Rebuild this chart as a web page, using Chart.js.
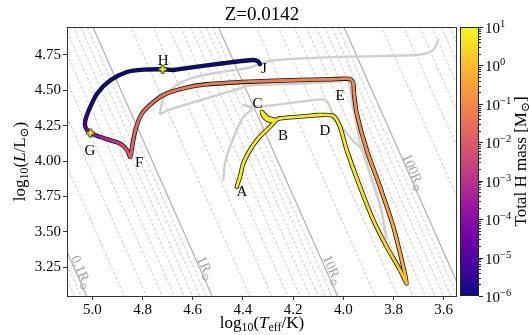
<!DOCTYPE html>
<html><head><meta charset="utf-8">
<script src="https://cdn.jsdelivr.net/npm/chart.js@4"></script>
<style>html,body{margin:0;padding:0;background:#fff;overflow:hidden}</style>
</head><body>
<canvas id="c" width="529" height="335"></canvas>
<script>
// ---------------- data ----------------
const chartTitle = 'Z=0.0142';
const xTicks = [5.0, 4.8, 4.6, 4.4, 4.2, 4.0, 3.8, 3.6];
const yTicks = [3.25, 3.5, 3.75, 4.0, 4.25, 4.5, 4.75];
const cbExponents = [-6, -5, -4, -3, -2, -1, 0, 1];

// binary-donor track: log Teff, log L, log total H mass
const trackLogT = [4.4247,4.4116,4.3984,4.3717,4.3386,4.3052,4.2789,4.2721,4.3000,4.3239,4.3159,4.2920,4.2681,4.2522,4.1725,4.0928,4.0398,4.0131,3.9865,3.9335,3.8805,3.8271,3.7741,3.7474,3.7610,3.8008,3.8538,3.9068,3.9466,3.9574,3.9602,3.9733,4.0530,4.1725,4.3717,4.5442,4.6375,4.7171,4.7701,4.8060,4.8287,4.8418,4.8486,4.8618,4.8884,4.9283,4.9681,5.0080,5.0279,5.0279,5.0143,4.9813,4.9283,4.8618,4.7952,4.7195,4.6773,4.6108,4.4781,4.3586,4.3386,4.3319];
const trackLogL = [3.8185,3.8890,3.9840,4.0777,4.1603,4.2189,4.2662,4.2895,4.3037,4.3460,4.3107,4.2825,4.2895,4.3016,4.3129,4.3249,4.3178,4.2422,4.0777,3.8185,3.5833,3.3948,3.2302,3.1363,3.2535,3.5360,3.8185,4.0777,4.3369,4.4781,4.5487,4.5791,4.5770,4.5720,4.5600,4.5417,4.5134,4.4661,4.3955,4.3249,4.2168,4.0989,4.0282,4.0756,4.1222,4.1462,4.1695,4.1977,4.2401,4.2874,4.3580,4.4753,4.5699,4.6285,4.6448,4.6476,4.6427,4.6589,4.6900,4.7133,4.7013,4.6829];
const trackLogMH = [0.85,0.85,0.84,0.84,0.83,0.83,0.82,0.82,0.82,0.81,0.81,0.81,0.80,0.80,0.79,0.78,0.78,0.77,0.75,0.70,0.62,0.50,0.35,0.15,-0.10,-0.40,-0.60,-0.75,-0.88,-0.95,-1.00,-1.05,-1.10,-1.15,-1.20,-1.30,-1.35,-1.45,-1.55,-1.60,-1.70,-1.75,-1.85,-2.10,-2.50,-3.00,-3.50,-4.00,-4.70,-5.40,-5.80,-6.00,-6.00,-6.00,-6.00,-6.00,-6.00,-6.00,-6.00,-6.00,-6.00,-6.00];

// comparison single-star tracks (grey)
const grey1LogT = [4.4781,4.4713,4.4514,4.4247,4.3984,4.3649,4.3984,4.3660,4.2721,4.1394,4.0797,4.0610,4.0450,4.0052,3.9574,3.9215,3.8924,3.8538,3.8271];
const grey1LogL = [3.8658,3.9838,4.1010,4.2189,4.3129,4.3651,4.3970,4.3830,4.3955,4.4258,4.4343,4.4096,4.3460,4.2401,4.1342,4.0777,3.9011,3.6893,3.4541];
const grey2LogT = [3.8271,3.8538,3.8924,3.9335,3.9602,3.9665,3.9761,3.9893,4.0131,4.1725,4.3717,4.4116,4.5442,4.6773,4.7064,4.7303,4.7243,4.7171,4.6637,4.5841,4.4781,4.3717,4.2920,4.1725,3.9733,3.7076,3.6625,3.6386,3.6215];
const grey2LogL = [3.4541,3.6893,3.9011,4.1363,4.3722,4.4428,4.5438,4.5791,4.5650,4.5473,4.5332,4.5134,4.4428,4.3722,4.3531,4.3319,4.3955,4.4428,4.5367,4.5953,4.6306,4.6603,4.7062,4.7239,4.7366,4.7486,4.7627,4.7910,4.8545];

// special points (yellow plus markers)
const markerLogT = [5.0080, 4.7195];
const markerLogL = [4.1977, 4.6476];

// stage labels
const stageLabels = ['A','B','C','D','E','F','G','H','J'];
const stageLogT = [4.4036,4.2402,4.3418,4.0729,4.0131,4.8139,5.0092,4.7183,4.3160];
const stageLogL = [3.7881,4.1836,4.4096,4.2189,4.4661,3.9929,4.0777,4.7097,4.6568];

// iso-radius guide lines (R in solar radii); labelled ones
const isoRadii = [0.06,0.07,0.08,0.09,0.1,0.2,0.3,0.4,0.5,0.6,0.7,0.8,0.9,1,2,3,4,5,6,7,8,9,10,20,30,40,50,60,70,80,90,100,200,300,400,500,600,700,800,900];
const radiusLabelText = ['0.1','1','10','100'];
const radiusLabelLogT = [5.041, 4.547, 4.041, 3.7183];
const radiusLabelLogL = [3.216, 3.2444, 3.2302, 3.9223];
const logTsun = 3.7613;

// ---------------- helpers ----------------
const FONT = 'Liberation Serif';
const plasma = ['#0d0887','#41049d','#6a00a8','#8f0da4','#b12a90','#cc4778','#e16462','#f2844b','#fca636','#fcce25','#f0f921'];
function hex2rgb(h){return [parseInt(h.substr(1,2),16),parseInt(h.substr(3,2),16),parseInt(h.substr(5,2),16)];}
const plasmaRGB = plasma.map(hex2rgb);
function plasmaColor(f){
  f = Math.max(0, Math.min(1, f));
  const p = f*10, i = Math.min(9, Math.floor(p)), t = p - i;
  const a = plasmaRGB[i], b = plasmaRGB[i+1];
  return 'rgb(' + a.map((v,k)=>Math.round(v+(b[k]-v)*t)).join(',') + ')';
}
function massColor(lm){ return plasmaColor((lm + 6)/7); }

function drawRich(ctx, segs, x, y, size, align, rot, color){
  ctx.save();
  ctx.translate(x, y);
  ctx.rotate(rot || 0);
  ctx.textBaseline = 'alphabetic';
  ctx.fillStyle = color || '#000';
  let w = 0; const ms = [];
  for (const s of segs){
    const fs = (s.sub || s.sup) ? size*0.7 : size;
    const font = (s.it ? 'italic ' : '') + fs + 'px "' + FONT + '", "DejaVu Serif", serif';
    ctx.font = font;
    const mw = ctx.measureText(s.t).width;
    ms.push({font, mw, dy: s.sub ? size*0.22 : (s.sup ? -size*0.4 : 0)});
    w += mw;
  }
  let cx = align === 'left' ? 0 : (align === 'right' ? -w : -w/2);
  const base = size*0.33;
  segs.forEach((s,i)=>{
    ctx.font = ms[i].font;
    ctx.fillText(s.t, cx, base + ms[i].dy);
    cx += ms[i].mw;
  });
  ctx.restore();
}

function plusMarker(){
  const c = document.createElement('canvas');
  c.width = 11; c.height = 11;
  const g = c.getContext('2d');
  const m = 5.5, L = 4.0, W = 1.4;
  g.beginPath();
  g.moveTo(m-W, m-L); g.lineTo(m+W, m-L); g.lineTo(m+W, m-W); g.lineTo(m+L, m-W);
  g.lineTo(m+L, m+W); g.lineTo(m+W, m+W); g.lineTo(m+W, m+L); g.lineTo(m-W, m+L);
  g.lineTo(m-W, m+W); g.lineTo(m-L, m+W); g.lineTo(m-L, m-W); g.lineTo(m-W, m-W); g.closePath();
  g.fillStyle = '#f5f520'; g.fill();
  g.lineWidth = 0.9; g.strokeStyle = '#222'; g.stroke();
  return c;
}

// ---------------- datasets ----------------
const toPts = (xs, ys) => xs.map((x,i)=>({x, y: ys[i]}));
const datasets = [];

datasets.push({ // markers on top
  data: toPts(markerLogT, markerLogL), showLine: false,
  pointStyle: plusMarker(), pointRadius: 5, order: 0
});
datasets.push({ // coloured track
  data: toPts(trackLogT, trackLogL), showLine: true, pointRadius: 0,
  borderWidth: 2.8, tension: 0.25, borderCapStyle: 'round', borderJoinStyle: 'round',
  borderColor: massColor(trackLogMH[0]),
  segment: { borderColor: c => massColor((trackLogMH[c.p0DataIndex] + trackLogMH[c.p1DataIndex])/2) },
  order: 1
});
datasets.push({ // black outline
  data: toPts(trackLogT, trackLogL), showLine: true, pointRadius: 0,
  borderWidth: 4.4, tension: 0.25, borderCapStyle: 'round', borderJoinStyle: 'round',
  borderColor: '#111', order: 2
});
datasets.push({
  data: toPts(grey1LogT, grey1LogL), showLine: true, pointRadius: 0, borderWidth: 2.4,
  tension: 0.25, borderColor: '#cfcfcf', borderCapStyle: 'round', borderJoinStyle: 'round', order: 3
});
datasets.push({
  data: toPts(grey2LogT, grey2LogL), showLine: true, pointRadius: 0, borderWidth: 2.4,
  tension: 0.25, borderColor: '#cfcfcf', borderCapStyle: 'round', borderJoinStyle: 'round', order: 3
});
isoRadii.forEach(R => {
  const major = Math.abs(Math.log10(R) - Math.round(Math.log10(R))) < 1e-9;
  const lr = Math.log10(R);
  const pts = [3.2, 5.5].map(t => ({x: t, y: 2*lr + 4*(t - logTsun)}));
  datasets.push({
    data: pts, showLine: true, pointRadius: 0,
    borderWidth: major ? 1.1 : 0.7,
    borderColor: major ? '#a8a8a8' : '#b4b4b4',
    borderDash: major ? [] : [3, 2],
    order: 10
  });
});

// ---------------- plugin ----------------
const deco = {
  id: 'deco',
  afterDatasetsDraw(chart){
    const ctx = chart.ctx, a = chart.chartArea, xs = chart.scales.x, ys = chart.scales.y, cb = chart.scales.cb;
    // radius labels
    const p1x = xs.getPixelForValue(4.5), p1y = ys.getPixelForValue(4*(4.5-logTsun));
    const p2x = xs.getPixelForValue(4.0), p2y = ys.getPixelForValue(4*(4.0-logTsun));
    const ang = Math.atan2(p2y-p1y, p2x-p1x);
    ctx.save();
    ctx.beginPath(); ctx.rect(a.left, a.top, a.right-a.left, a.bottom-a.top); ctx.clip();
    radiusLabelText.forEach((t,i)=>{
      drawRich(ctx, [{t: t + 'R'}, {t:'⊙', sub:true}],
        xs.getPixelForValue(radiusLabelLogT[i]), ys.getPixelForValue(radiusLabelLogL[i]), 14, 'center', ang, '#a0a0a0');
    });
    ctx.restore();
    // stage labels
    stageLabels.forEach((t,i)=>{
      drawRich(ctx, [{t}], xs.getPixelForValue(stageLogT[i]), ys.getPixelForValue(stageLogL[i]), 15, 'center', 0, '#000');
    });
    // frame
    ctx.save();
    ctx.strokeStyle = '#333'; ctx.lineWidth = 1;
    ctx.strokeRect(a.left+0.5, a.top+0.5, a.right-a.left-1, a.bottom-a.top);
    ctx.restore();
    // colour bar
    const top = cb.getPixelForValue(10), bot = cb.getPixelForValue(1e-6);
    const x0 = cb.left + 3, x1 = cb.left + 22;
    const g = ctx.createLinearGradient(0, bot, 0, top);
    plasma.forEach((c,i)=>g.addColorStop(i/10, c));
    ctx.save();
    ctx.fillStyle = g; ctx.fillRect(x0, top, x1-x0, bot-top);
    ctx.strokeStyle = '#222'; ctx.lineWidth = 1; ctx.strokeRect(x0+0.5, top+0.5, x1-x0-1, bot-top-1);
    ctx.beginPath();
    for (let e = -6; e < 1; e++){
      for (let m = 2; m <= 9; m++){
        const y = Math.round(cb.getPixelForValue(m*Math.pow(10,e))) + 0.5;
        ctx.moveTo(x1, y); ctx.lineTo(x1+2, y);
      }
    }
    cbExponents.forEach(e => {
      const y = Math.round(cb.getPixelForValue(Math.pow(10,e))) + 0.5;
      ctx.moveTo(x1, y); ctx.lineTo(x1+4, y);
    });
    ctx.stroke();
    ctx.restore();
    cbExponents.forEach(e => {
      const y = cb.getPixelForValue(Math.pow(10,e));
      drawRich(ctx, [{t:'10'}, {t: (e<0?'−':'') + Math.abs(e), sup:true}], x1+6, y+1, 15, 'left', 0, '#000');
    });
    // titles
    drawRich(ctx, [{t: chartTitle}], (a.left+a.right)/2, 14, 19, 'center', 0, '#000');
    drawRich(ctx, [{t:'log'},{t:'10',sub:true},{t:'('},{t:'T',it:true},{t:'eff',sub:true},{t:'/K)'}],
      (a.left+a.right)/2, 322, 17, 'center', 0, '#000');
    drawRich(ctx, [{t:'log'},{t:'10',sub:true},{t:'('},{t:'L',it:true},{t:'/L'},{t:'⊙',sub:true},{t:')'}],
      19, (a.top+a.bottom)/2, 17, 'center', -Math.PI/2, '#000');
    drawRich(ctx, [{t:'Total H mass [M'},{t:'⊙',sub:true},{t:']'}],
      520, (a.top+a.bottom)/2, 17, 'center', -Math.PI/2, '#000');
  }
};

new Chart(document.getElementById('c'), {
  type: 'scatter',
  data: { datasets },
  options: {
    responsive: false, animation: false,
    layout: { padding: { top: 27, left: 0, right: 0, bottom: 0 } },
    plugins: { legend: { display: false }, tooltip: { enabled: false }, title: { display: false } },
    scales: {
      x: {
        type: 'linear', reverse: true, min: 3.547, max: 5.101,
        afterFit(s){ s.height = 39; },
        afterBuildTicks(s){ s.ticks = xTicks.map(v => ({value: v})); },
        grid: { drawOnChartArea: false, drawTicks: true, tickLength: 4, color: '#333' },
        border: { display: false },
        ticks: { color: '#000', padding: 1, maxRotation: 0, font: { family: FONT, size: 15 }, callback: v => v.toFixed(1) }
      },
      y: {
        type: 'linear', min: 3.047, max: 4.946,
        afterFit(s){ s.width = 67; },
        afterBuildTicks(s){ s.ticks = yTicks.map(v => ({value: v})); },
        grid: { drawOnChartArea: false, drawTicks: true, tickLength: 4, color: '#333' },
        border: { display: false },
        ticks: { color: '#000', padding: 2, font: { family: FONT, size: 15 }, callback: v => v.toFixed(2) }
      },
      cb: {
        type: 'logarithmic', position: 'right', min: 1e-6, max: 10,
        afterFit(s){ s.width = 72; },
        grid: { display: false }, border: { display: false },
        ticks: { display: false }
      }
    }
  },
  plugins: [deco]
});
</script>
</body></html>
